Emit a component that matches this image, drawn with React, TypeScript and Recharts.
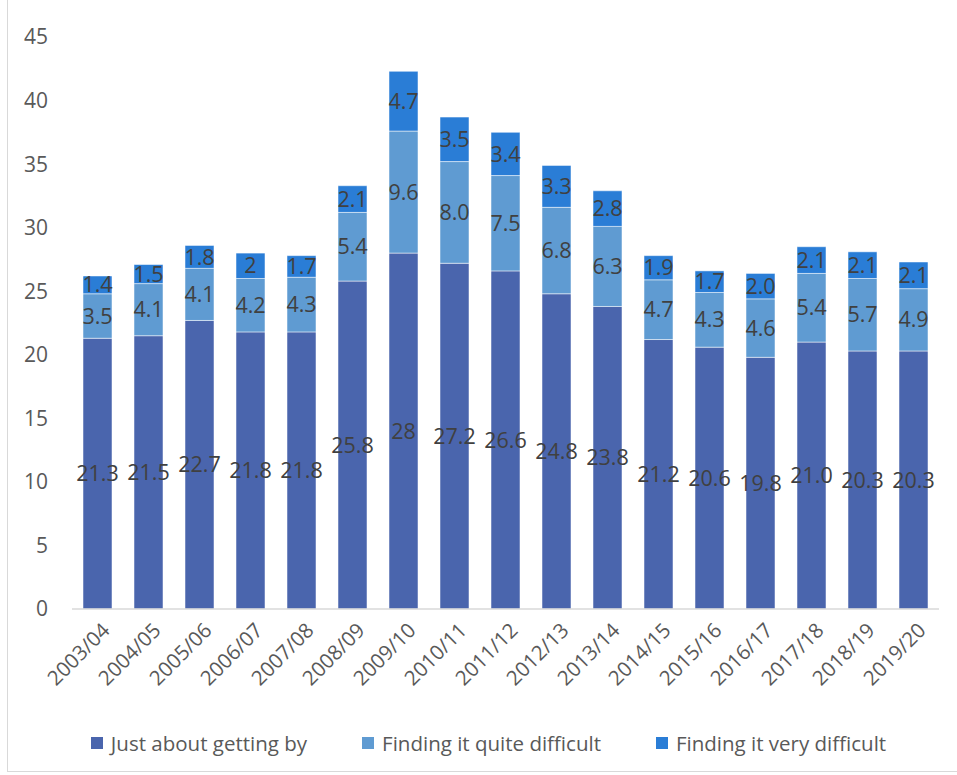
import { BarChart, Bar, XAxis, YAxis, LabelList, Legend } from 'recharts';

const years = [
  '2003/04', '2004/05', '2005/06', '2006/07', '2007/08', '2008/09', '2009/10', '2010/11', '2011/12',
  '2012/13', '2013/14', '2014/15', '2015/16', '2016/17', '2017/18', '2018/19', '2019/20',
];

// labels kept as printed in the source (some without decimals)
const gettingBy = ['21.3', '21.5', '22.7', '21.8', '21.8', '25.8', '28', '27.2', '26.6', '24.8', '23.8', '21.2', '20.6', '19.8', '21.0', '20.3', '20.3'];
const quiteDifficult = ['3.5', '4.1', '4.1', '4.2', '4.3', '5.4', '9.6', '8.0', '7.5', '6.8', '6.3', '4.7', '4.3', '4.6', '5.4', '5.7', '4.9'];
const veryDifficult = ['1.4', '1.5', '1.8', '2', '1.7', '2.1', '4.7', '3.5', '3.4', '3.3', '2.8', '1.9', '1.7', '2.0', '2.1', '2.1', '2.1'];

const yTicks = [0, 5, 10, 15, 20, 25, 30, 35, 40, 45];

const series = [
  { key: 'getting', name: 'Just about getting by', color: '#4A65AD' },
  { key: 'quite', name: 'Finding it quite difficult', color: '#5F9BD2' },
  { key: 'very', name: 'Finding it very difficult', color: '#2A7DD6' },
];

const data = years.map((year, i) => ({
  year,
  getting: Number(gettingBy[i]),
  quite: Number(quiteDifficult[i]),
  very: Number(veryDifficult[i]),
  gettingLabel: gettingBy[i],
  quiteLabel: quiteDifficult[i],
  veryLabel: veryDifficult[i],
}));

const FONT = '"Open Sans", sans-serif';

const XTick = ({ x, y, payload }: any) => (
  <text
    x={x + 8}
    y={y + 9}
    transform={`rotate(-45, ${x + 8}, ${y + 9})`}
    textAnchor="end"
    dominantBaseline="central"
    fill="#595959"
    fontSize={20.5}
    fontFamily={FONT}
  >
    {payload.value}
  </text>
);

const LegendContent = () => (
  <div style={{ display: 'flex', justifyContent: 'center', gap: 55, paddingLeft: 38, fontFamily: FONT }}>
    {series.map((s) => (
      <div key={s.key} style={{ display: 'flex', alignItems: 'center' }}>
        <span style={{ width: 12, height: 12, background: s.color, marginRight: 8, display: 'inline-block' }} />
        <span style={{ fontSize: 20.5, color: '#595959' }}>{s.name}</span>
      </div>
    ))}
  </div>
);

export default function App() {
  return (
    <div style={{ position: 'absolute', left: 0, top: 0, width: 957, height: 775, background: '#fff', overflow: 'hidden' }}>
      <div
        style={{
          position: 'absolute',
          left: 7,
          top: -2,
          width: 970,
          height: 774,
          border: '1px solid #D9D9D9',
          boxSizing: 'border-box',
        }}
      />
      <BarChart
        width={957}
        height={775}
        data={data}
        margin={{ top: 37, right: 18, left: 0, bottom: 0 }}
        barSize={29}
      >
        <YAxis
          width={72}
          domain={[0, 45]}
          ticks={yTicks}
          axisLine={false}
          tickLine={false}
          tickSize={0}
          tickMargin={24}
          tick={{ fill: '#595959', fontSize: 21, fontFamily: FONT }}
        />
        <XAxis
          dataKey="year"
          height={120}
          interval={0}
          axisLine={{ stroke: '#D9D9D9', strokeWidth: 1.5 }}
          tickLine={false}
          tick={<XTick />}
        />
        <Legend verticalAlign="bottom" height={46} content={<LegendContent />} />
        {series.map((s) => (
          <Bar
            key={s.key}
            dataKey={s.key}
            name={s.name}
            stackId="a"
            fill={s.color}
            stroke="#ffffff"
            strokeOpacity={0.5}
            strokeWidth={1}
            isAnimationActive={false}
          >
            <LabelList
              dataKey={`${s.key}Label`}
              position="center"
              fill="#404040"
              fontSize={21.5}
              fontFamily={FONT}
            />
          </Bar>
        ))}
      </BarChart>
    </div>
  );
}
